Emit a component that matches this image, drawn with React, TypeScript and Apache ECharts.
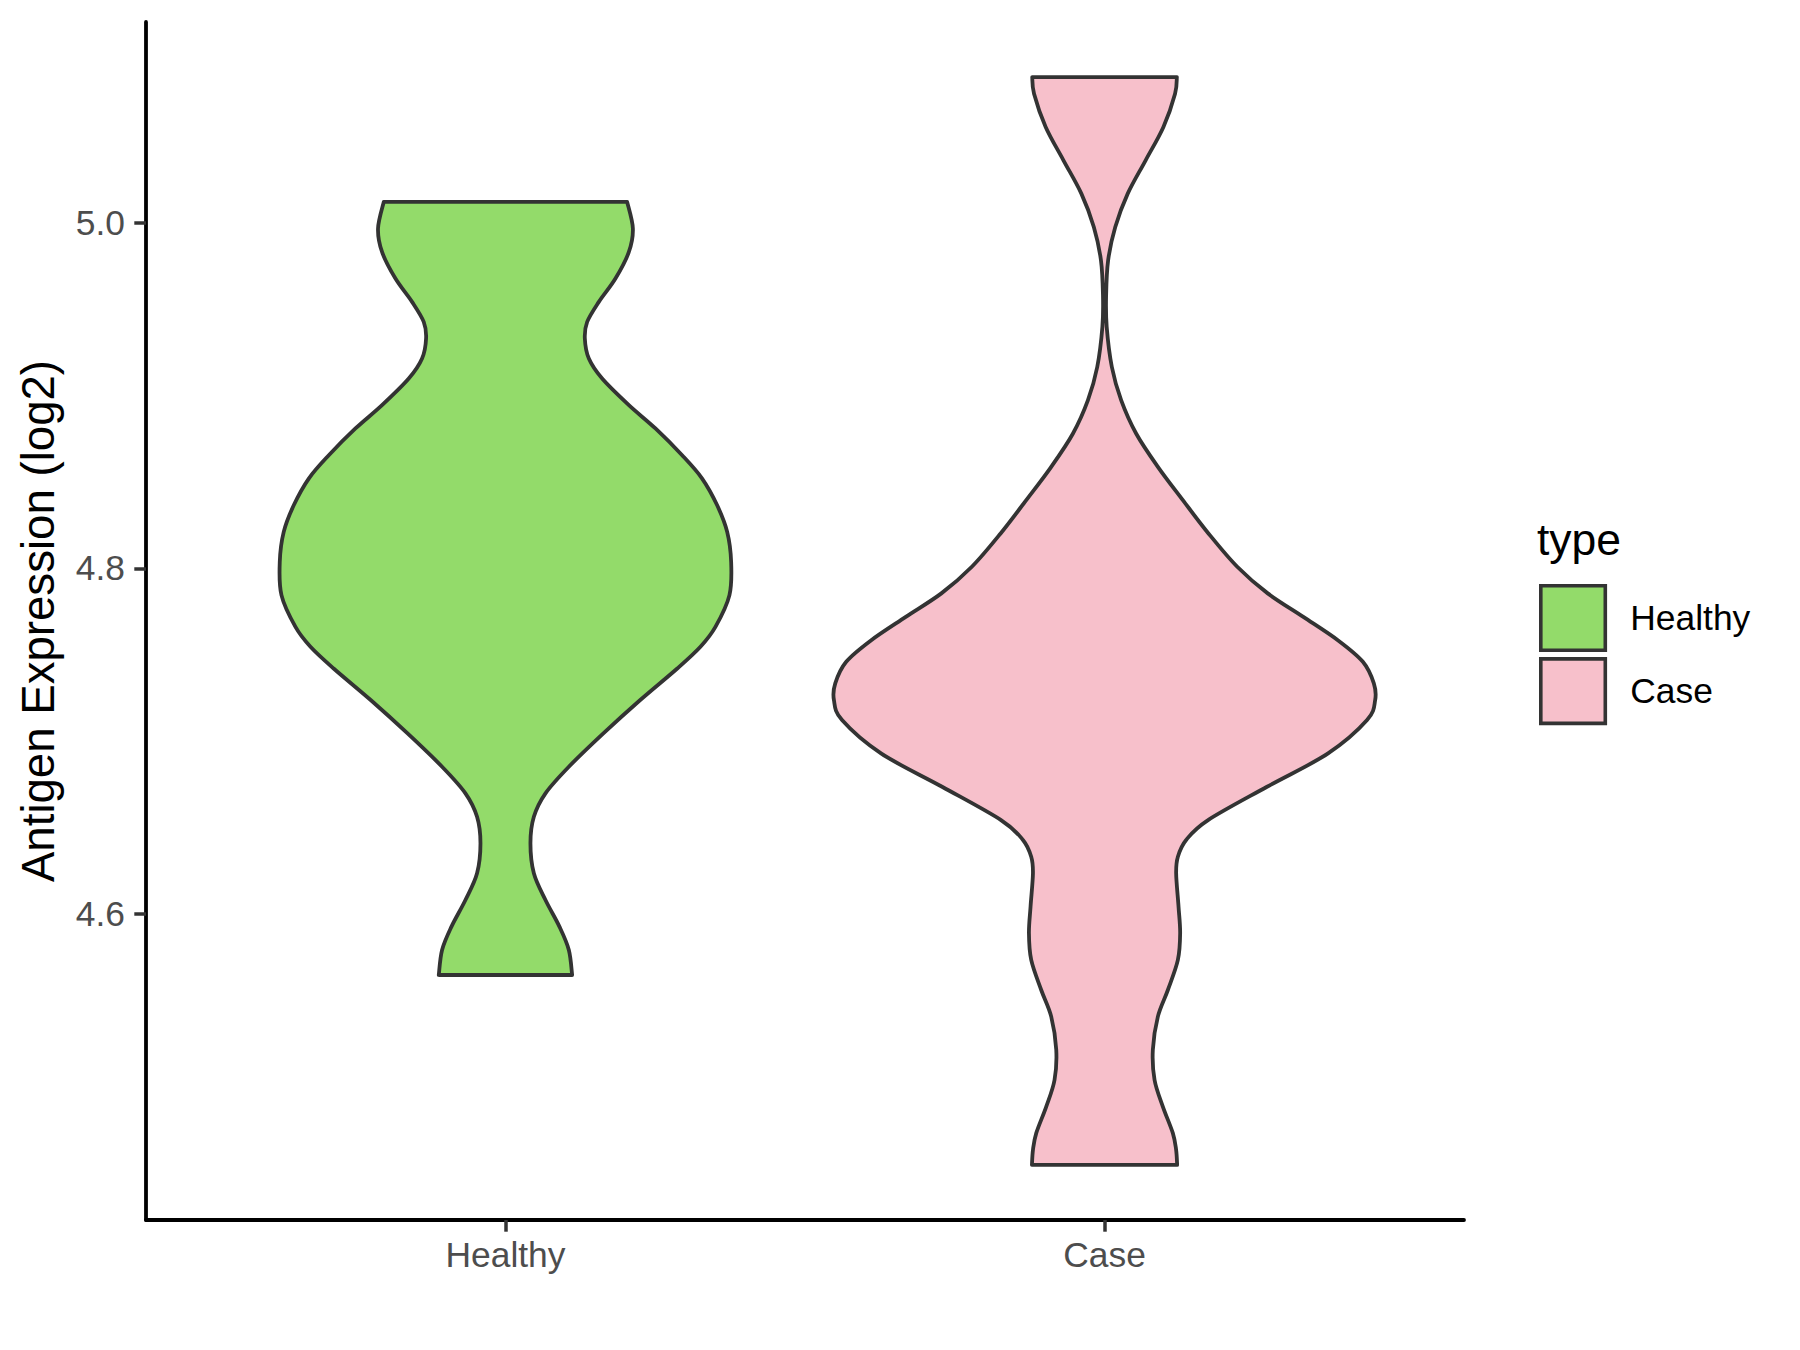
import React, { useEffect, useRef } from "react";
import * as echarts from "echarts";

// ---- Data ----
const categories = ["Healthy", "Case"];
const categoryPositions = [1, 2];
const yTickValues = [4.6, 4.8, 5.0];
const legendTitle = "type";
const yAxisTitle = "Antigen Expression (log2)";

// Violin outlines: y value and half-width (in x-axis units), from top to bottom
const healthyY = [5.0122, 4.9968, 4.9832, 4.9678, 4.9543, 4.9427, 4.9331, 4.9215, 4.9099, 4.8945, 4.881, 4.8655, 4.852, 4.8365, 4.8211, 4.8038, 4.7845, 4.7661, 4.7546, 4.742, 4.7236, 4.7044, 4.6851, 4.6697, 4.6561, 4.6408, 4.6234, 4.6079, 4.5925, 4.579, 4.5645];
const healthyHalfWidth = [0.2031, 0.2127, 0.206, 0.1836, 0.1559, 0.1364, 0.1325, 0.1392, 0.1614, 0.206, 0.2504, 0.2949, 0.3283, 0.3534, 0.3701, 0.3767, 0.3739, 0.3505, 0.3255, 0.2868, 0.2245, 0.1634, 0.1058, 0.0668, 0.0474, 0.0417, 0.0474, 0.0668, 0.0901, 0.1058, 0.1113];

const caseY = [5.0845, 5.0749, 5.0556, 5.0363, 5.017, 4.9977, 4.9784, 4.958, 4.9398, 4.9166, 4.8974, 4.8781, 4.8588, 4.8395, 4.8202, 4.8009, 4.7855, 4.7719, 4.7584, 4.7459, 4.7334, 4.7237, 4.7121, 4.6928, 4.6735, 4.6542, 4.6427, 4.633, 4.6234, 4.6041, 4.5887, 4.5732, 4.5558, 4.5404, 4.5211, 4.5037, 4.4883, 4.4729, 4.4632, 4.4545];
const caseHalfWidth = [0.1207, 0.1177, 0.0983, 0.0686, 0.0387, 0.0179, 0.006, 0.0026, 0.0036, 0.0122, 0.0277, 0.0527, 0.089, 0.1307, 0.1735, 0.2215, 0.2724, 0.3318, 0.3894, 0.4312, 0.4495, 0.4517, 0.4382, 0.3731, 0.2712, 0.1728, 0.1362, 0.1224, 0.1195, 0.1235, 0.1262, 0.1224, 0.1057, 0.089, 0.0806, 0.0835, 0.0973, 0.114, 0.1195, 0.1212];

const fillColors = ["#93DB6A", "#F7C0CB"];
const outlineColor = "#333333";
const FONT = "'Liberation Sans', Arial, sans-serif";

function splinePath(pts: number[][], move: boolean): string {
  let d = (move ? "M" : "L") + pts[0][0] + "," + pts[0][1];
  for (let i = 0; i < pts.length - 1; i++) {
    const p0 = pts[Math.max(i - 1, 0)];
    const p1 = pts[i];
    const p2 = pts[i + 1];
    const p3 = pts[Math.min(i + 2, pts.length - 1)];
    const c1x = p1[0] + (p2[0] - p0[0]) / 6;
    const c1y = p1[1] + (p2[1] - p0[1]) / 6;
    const c2x = p2[0] - (p3[0] - p1[0]) / 6;
    const c2y = p2[1] - (p3[1] - p1[1]) / 6;
    d += " C" + c1x + "," + c1y + " " + c2x + "," + c2y + " " + p2[0] + "," + p2[1];
  }
  return d;
}

function violinRenderer(center: number, ys: number[], hws: number[], color: string) {
  return (_params: any, api: any) => {
    const left = ys.map((y, i) => api.coord([center - hws[i], y]));
    const right = ys.map((y, i) => api.coord([center + hws[i], y])).reverse();
    const d = splinePath(left, true) + " " + splinePath(right, false) + " Z";
    return {
      type: "path",
      shape: { pathData: d },
      style: { fill: color, stroke: outlineColor, lineWidth: 3.8, lineJoin: "round" },
    };
  };
}

export default function App() {
  const ref = useRef<HTMLDivElement>(null);
  useEffect(() => {
    if (!ref.current) return;
    const chart = echarts.init(ref.current, null, { renderer: "svg" });
    const violins = [
      { ys: healthyY, hws: healthyHalfWidth },
      { ys: caseY, hws: caseHalfWidth },
    ];
    chart.setOption({
      animation: false,
      backgroundColor: "#FFFFFF",
      grid: { left: 146, top: 22, width: 1318, height: 1198, containLabel: false },
      xAxis: {
        type: "value",
        min: 0.4,
        max: 2.6,
        splitLine: { show: false },
        axisLine: { show: true, lineStyle: { color: "#000000", width: 3.8 } },
        axisTick: {
          show: true,
          customValues: categoryPositions,
          length: 11.7,
          lineStyle: { color: outlineColor, width: 3.5 },
        },
        axisLabel: {
          customValues: categoryPositions,
          formatter: (v: number) => categories[categoryPositions.indexOf(v)] ?? "",
          margin: 17,
          fontSize: 35.4,
          lineHeight: 35.4,
          color: "#4D4D4D",
          fontFamily: FONT,
        },
      },
      yAxis: {
        type: "value",
        min: 4.4226,
        max: 5.1164,
        splitLine: { show: false },
        axisLine: { show: true, lineStyle: { color: "#000000", width: 3.8 } },
        axisTick: {
          show: true,
          customValues: yTickValues,
          length: 11.7,
          lineStyle: { color: outlineColor, width: 3.5 },
        },
        axisLabel: {
          customValues: yTickValues,
          formatter: (v: number) => v.toFixed(1),
          margin: 21,
          fontSize: 35.4,
          lineHeight: 35.4,
          color: "#4D4D4D",
          fontFamily: FONT,
        },
      },
      legend: {
        data: categories,
        orient: "vertical",
        left: 1539,
        top: 584,
        padding: 0,
        itemWidth: 64.5,
        itemHeight: 64.5,
        itemGap: 5,
        icon: "rect",
        itemStyle: { borderColor: outlineColor, borderWidth: 3.6 },
        textStyle: { fontSize: 35.4, color: "#000000", fontFamily: FONT, padding: [0, 0, 0, 20] },
        selectedMode: false,
      },
      graphic: [
        {
          type: "text",
          x: 1537,
          y: 539,
          style: {
            text: legendTitle,
            fontSize: 44.5,
            fontFamily: FONT,
            fill: "#000000",
            align: "left",
            verticalAlign: "middle",
          },
        },
        {
          type: "text",
          x: 38.5,
          y: 621,
          rotation: Math.PI / 2,
          style: {
            text: yAxisTitle,
            fontSize: 45.6,
            fontFamily: FONT,
            fill: "#000000",
            align: "center",
            verticalAlign: "middle",
          },
        },
      ],
      series: categories.map((name, i) => ({
        type: "custom",
        name,
        data: [[categoryPositions[i], 4.8]],
        encode: { x: 0, y: 1 },
        clip: false,
        itemStyle: { color: fillColors[i], borderColor: outlineColor },
        renderItem: violinRenderer(categoryPositions[i], violins[i].ys, violins[i].hws, fillColors[i]),
      })),
    });
    return () => chart.dispose();
  }, []);
  return (
    <div
      ref={ref}
      style={{ position: "fixed", left: 0, top: 0, width: 1800, height: 1350, background: "#FFFFFF" }}
    />
  );
}
